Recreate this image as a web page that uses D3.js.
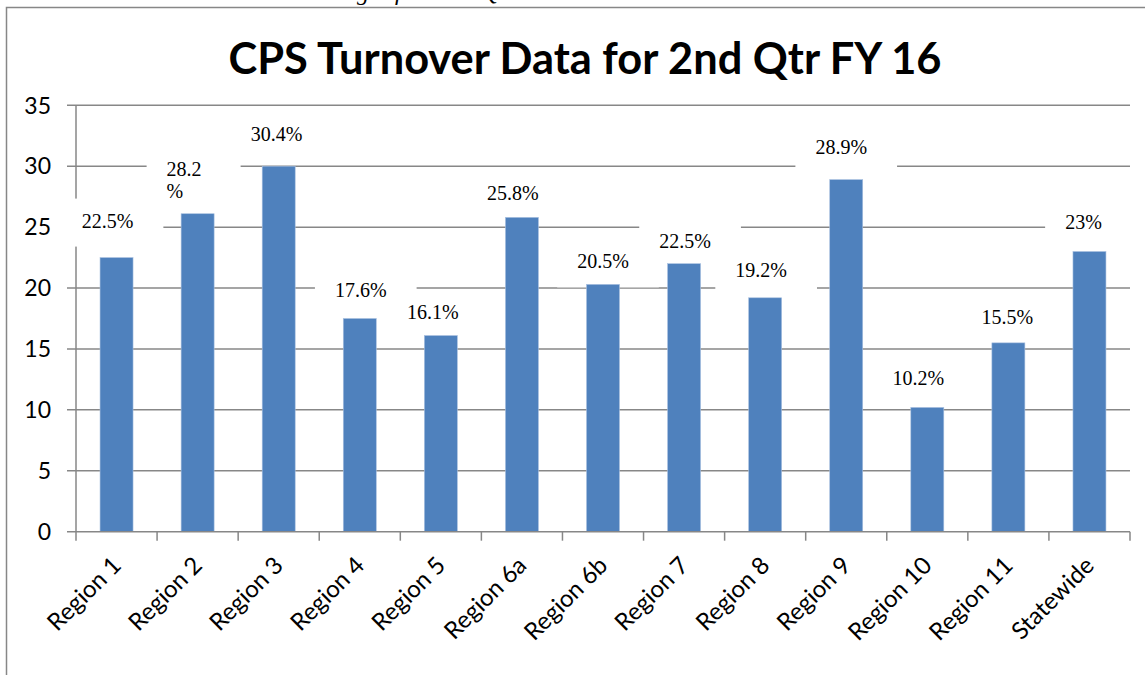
<!DOCTYPE html>
<html>
<head>
<meta charset="utf-8">
<script src="https://cdn.jsdelivr.net/npm/d3@7"></script>
<style>
  body { margin: 0; background: #fff; }
  svg { display: block; }
</style>
</head>
<body>
<svg id="chart" width="1145" height="675"></svg>
<script>
// chart data
const categories = ["Region 1", "Region 2", "Region 3", "Region 4", "Region 5", "Region 6a",
  "Region 6b", "Region 7", "Region 8", "Region 9", "Region 10", "Region 11", "Statewide"];
const barValues = [22.5, 26.1, 30.0, 17.5, 16.1, 25.8, 20.3, 22.0, 19.2, 28.9, 10.2, 15.5, 23.0];
const labelTexts = ["22.5%", "28.2%", "30.4%", "17.6%", "16.1%", "25.8%", "20.5%",
  "22.5%", "19.2%", "28.9%", "10.2%", "15.5%", "23%"];
const yTicks = [0, 5, 10, 15, 20, 25, 30, 35];

const titleText = "CPS Turnover Data for 2nd Qtr FY 16";
const captionText = "Statewide Turnover Percentages for First Quarter FY 2016";

// the data labels were placed by hand in the original, so keep their nudges here (px)
const labelLift = [30, 38, 25, 22, 17, 17, 16, 16, 21, 26, 22, 19, 22];
const labelShift = [-9, -31, -2, 1, -8, -9, 0, 1, -4, -5, -9, -1, -6];
const wrapped = [1]; // label that breaks onto two lines

const svg = d3.select("#chart");
const plotLeft = 76, plotRight = 1130, plotTop = 105.3, plotBottom = 531.7;
const grey = "#878787";

const x = d3.scaleBand()
    .domain(categories)
    .range([plotLeft, plotRight])
    .paddingInner(0.593)
    .paddingOuter(0.2965);

const y = d3.scaleLinear()
    .domain([0, 35])
    .range([plotBottom, plotTop]);

// frame of the embedded chart object
svg.append("path")
    .attr("d", `M6.5,675 V7.5 H1145`)
    .attr("fill", "none")
    .attr("stroke", grey)
    .attr("stroke-width", 1.5);

// caption line of the page above, only its lowest strokes show
svg.append("text")
    .attr("x", 78)
    .attr("y", 0)
    .attr("font-family", "Liberation Serif")
    .attr("font-style", "italic")
    .attr("font-size", "24px")
    .text(captionText);

svg.append("text")
    .attr("x", 585)
    .attr("y", 74)
    .attr("text-anchor", "middle")
    .attr("font-family", "Lato")
    .attr("font-weight", "bold")
    .attr("font-size", "43.5px")
    .attr("textLength", 713)
    .attr("lengthAdjust", "spacingAndGlyphs")
    .text(titleText);

// gridlines (with the small ticks left of the axis)
svg.append("g")
    .selectAll("line")
    .data(yTicks.filter(d => d > 0))
    .enter()
    .append("line")
    .attr("x1", plotLeft - 9)
    .attr("x2", plotRight)
    .attr("y1", d => y(d))
    .attr("y2", d => y(d))
    .attr("stroke", grey)
    .attr("stroke-width", 1.5);

// y axis line
svg.append("line")
    .attr("x1", plotLeft).attr("x2", plotLeft)
    .attr("y1", plotTop).attr("y2", plotBottom)
    .attr("stroke", grey)
    .attr("stroke-width", 1.5);

svg.append("g")
    .selectAll("text")
    .data(yTicks)
    .enter()
    .append("text")
    .attr("x", 51)
    .attr("y", d => y(d))
    .attr("dy", "0.36em")
    .attr("text-anchor", "end")
    .attr("font-family", "Lato")
    .attr("font-size", "23px")
    .attr("fill", "#000")
    .text(d => d);

// data labels: white boxes hide the gridlines behind them
const labels = svg.append("g");
categories.forEach((c, i) => {
  const cx = x(c) + x.bandwidth() / 2 + labelShift[i];
  const base = y(barValues[i]) - labelLift[i];
  const g = labels.append("g");
  const box = g.append("rect").attr("fill", "#fff");
  const t = g.append("text")
      .attr("font-family", "Liberation Serif")
      .attr("font-size", "20px")
      .attr("fill", "#000");
  let textLeft, boxW, boxH = 48;
  if (wrapped.includes(i)) {
    const txt = labelTexts[i];
    t.attr("x", cx).attr("y", base);
    t.append("tspan").attr("x", cx).text(txt.slice(0, -1));
    t.append("tspan").attr("x", cx).attr("dy", 22).text(txt.slice(-1));
    textLeft = cx;
    boxW = 94;
    boxH = 70;
  } else {
    t.attr("x", cx).attr("y", base).attr("text-anchor", "middle").text(labelTexts[i]);
    const w = t.node().getComputedTextLength();
    textLeft = cx - w / 2;
    boxW = w + 50;
  }
  box.attr("x", textLeft - 20)
      .attr("y", base - 29)
      .attr("width", boxW)
      .attr("height", boxH);
});

// bars
svg.append("g")
    .selectAll("rect")
    .data(barValues)
    .enter()
    .append("rect")
    .attr("x", (d, i) => x(categories[i]))
    .attr("y", d => y(d))
    .attr("width", x.bandwidth())
    .attr("height", d => y(0) - y(d))
    .attr("fill", "#4f81bd")
    .attr("stroke", "#a9c0e0")
    .attr("stroke-width", 0.6);

// x axis with ticks between categories
const step = x.step();
const boundaries = categories.map(c => x(c) - (step - x.bandwidth()) / 2).concat([plotRight]);
svg.append("line")
    .attr("x1", plotLeft - 9).attr("x2", plotRight)
    .attr("y1", plotBottom).attr("y2", plotBottom)
    .attr("stroke", grey)
    .attr("stroke-width", 1.5);
svg.append("g")
    .selectAll("line")
    .data(boundaries)
    .enter()
    .append("line")
    .attr("x1", d => d).attr("x2", d => d)
    .attr("y1", plotBottom).attr("y2", plotBottom + 9)
    .attr("stroke", grey)
    .attr("stroke-width", 1.5);

svg.append("g")
    .selectAll("text")
    .data(categories)
    .enter()
    .append("text")
    .attr("transform", d => `translate(${x(d) + x.bandwidth() / 2 + 6}, 567) rotate(-45)`)
    .attr("text-anchor", "end")
    .attr("font-family", "Lato")
    .attr("font-size", "24px")
    .attr("fill", "#000")
    .text(d => d);
</script>
</body>
</html>
